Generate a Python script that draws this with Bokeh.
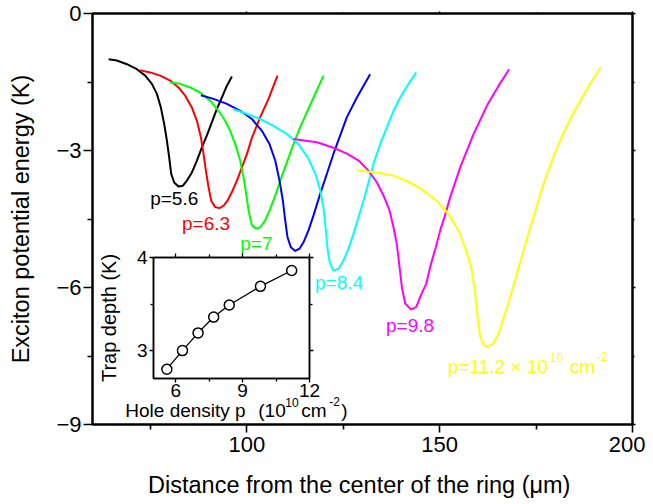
from bokeh.plotting import figure
from bokeh.models import Range1d, FixedTicker, LinearAxis, ColumnDataSource
from bokeh.layouts import column
from bokeh.embed import file_html
from bokeh.resources import INLINE
from bokeh.core.properties import value

FONT = "Liberation Sans"

# ---------------- data ----------------
densities = ["5.6", "6.3", "7", "8.4", "9.8", "11.2"]

black_x = [64.15, 66.32, 68.92, 71.51, 73.66, 75.39, 76.69, 77.73, 78.59, 79.28, 79.88, 80.40, 81.18, 82.30,
           83.44, 84.48, 85.77, 87.07, 88.36, 89.66, 90.96, 92.25, 93.55, 94.85, 96.14]
black_y = [-1.00, -1.03, -1.11, -1.22, -1.36, -1.54, -1.76, -2.06, -2.42, -2.78, -3.15, -3.51, -3.70, -3.79,
           -3.77, -3.66, -3.48, -3.22, -2.93, -2.67, -2.38, -2.09, -1.84, -1.58, -1.38]

red_x = [72.19, 74.96, 77.55, 80.15, 82.30, 84.03, 85.77, 87.07, 88.10, 88.78, 89.40, 90.08, 90.78, 91.81, 92.93,
         93.96, 95.00, 96.14, 97.44, 98.73, 100.03, 101.33, 103.48, 105.63, 107.96]
red_y = [-1.24, -1.29, -1.36, -1.47, -1.62, -1.80, -2.06, -2.35, -2.71, -3.07, -3.44, -3.80, -4.10, -4.24, -4.26,
         -4.21, -4.10, -3.91, -3.66, -3.37, -3.08, -2.72, -2.27, -1.87, -1.36]

green_x = [80.15, 82.74, 85.33, 87.92, 90.51, 92.67, 94.40, 95.70, 97.00, 98.29, 99.15, 99.85, 100.45, 101.33,
           102.44, 103.48, 104.78, 106.07, 107.37, 108.67, 110.40, 112.11, 113.85, 115.59, 117.30, 119.89]
green_y = [-1.51, -1.54, -1.62, -1.73, -1.91, -2.13, -2.35, -2.57, -2.86, -3.22, -3.59, -3.95, -4.31, -4.64,
           -4.71, -4.68, -4.53, -4.28, -3.99, -3.66, -3.26, -2.86, -2.49, -2.16, -1.84, -1.36]

blue_x = [88.10, 91.37, 94.85, 98.29, 101.33, 103.92, 105.89, 107.37, 108.48, 109.36, 109.96, 110.56, 111.44,
          112.55, 113.67, 114.70, 116.00, 117.30, 119.03, 120.77, 122.48, 124.22, 125.96, 128.55, 131.98]
blue_y = [-1.79, -1.87, -1.98, -2.13, -2.31, -2.57, -2.86, -3.22, -3.66, -4.10, -4.53, -4.90, -5.12,
          -5.20, -5.15, -5.01, -4.75, -4.42, -3.95, -3.51, -3.07, -2.67, -2.27, -1.84, -1.33]

cyan_x = [96.40, 100.03, 103.48, 106.93, 110.40, 113.41, 116.00, 117.74, 119.03, 119.89, 120.50, 120.95, 121.50,
          122.48, 123.78, 125.07, 126.37, 127.67, 128.96, 130.26, 131.56, 132.85, 134.59, 136.33, 138.04, 139.78,
          141.93, 143.93]
cyan_y = [-2.09, -2.20, -2.31, -2.46, -2.64, -2.86, -3.18, -3.50, -3.86, -4.26, -4.75, -5.15, -5.45,
          -5.63, -5.59, -5.41, -5.15, -4.82, -4.46, -4.10, -3.70, -3.29, -2.86, -2.49, -2.13, -1.84,
          -1.54, -1.29]

magenta_x = [112.10, 118.18, 122.48, 125.96, 129.00, 131.56, 133.74, 135.46, 137.00, 138.04, 138.90, 139.60,
             140.20, 141.07, 142.55, 143.93, 144.96, 146.52, 147.70, 149.00, 150.14, 151.44, 152.74, 155.33,
             158.78, 162.50, 165.30, 168.03]
magenta_y = [-2.75, -2.82, -2.94, -3.07, -3.22, -3.44, -3.70, -3.99, -4.31, -4.68, -5.05, -5.55,
             -5.99, -6.35, -6.48, -6.43, -6.20, -5.92, -5.50, -5.12, -4.75, -4.41, -4.02, -3.37,
             -2.64, -1.98, -1.58, -1.22]

yellow_x = [128.50, 133.74, 138.04, 142.37, 145.82, 149.28, 152.30, 154.90, 156.89, 158.37, 159.22, 159.82,
            160.52, 161.55, 162.67, 163.97, 165.26, 166.56, 168.29, 170.03, 171.75, 173.48, 175.22, 176.93,
            179.11, 181.26, 183.85, 186.44, 189.03, 191.81]
yellow_y = [-3.44, -3.48, -3.55, -3.70, -3.88, -4.10, -4.39, -4.75, -5.19, -5.63, -6.14, -6.65,
            -7.08, -7.27, -7.29, -7.22, -7.01, -6.68, -6.21, -5.70, -5.19, -4.68, -4.21, -3.73,
            -3.22, -2.78, -2.31, -1.91, -1.54, -1.17]

# inset: trap depth vs hole density
hole_density = [5.6, 6.3, 7.0, 7.7, 8.4, 9.8, 11.2]
trap_depth = [2.80, 3.00, 3.19, 3.36, 3.49, 3.69, 3.86]

x_major = [100, 150, 200]
x_minor = [75, 125, 175]
y_major = [-9, -6, -3, 0]
y_minor = [-7.5, -4.5, -1.5]
ix_major = [6, 9, 12]
ix_minor = [7.5, 10.5]
iy_major = [3, 4]
iy_minor = [3.5]

curves = [
    (black_x, black_y, "#000000"),
    (red_x, red_y, "#ff0000"),
    (green_x, green_y, "#00ff00"),
    (blue_x, blue_y, "#0000ff"),
    (cyan_x, cyan_y, "#00ffff"),
    (magenta_x, magenta_y, "#ff00ff"),
    (yellow_x, yellow_y, "#ffff00"),
]


def style_axis(ax, major_out, minor_out, size, labels=True, standoff=3):
    ax.axis_line_color = "black"
    ax.axis_line_width = 2
    ax.major_tick_line_color = "black"
    ax.minor_tick_line_color = "black"
    ax.major_tick_line_width = 1.6
    ax.minor_tick_line_width = 1.6
    ax.major_tick_in = 0
    ax.minor_tick_in = 0
    ax.major_tick_out = major_out
    ax.minor_tick_out = minor_out
    ax.major_label_text_font = FONT
    ax.major_label_text_color = "black"
    ax.major_label_standoff = standoff
    ax.axis_label_text_font = FONT
    ax.axis_label_text_font_style = "normal"
    ax.axis_label_text_color = "black"
    if labels:
        ax.major_label_text_font_size = size
    else:
        ax.major_label_text_font_size = "0px"
        ax.major_label_text_alpha = 0


# ---------------- main figure ----------------
p = figure(width=645, height=500, x_range=Range1d(60, 200), y_range=Range1d(-9, 0),
           output_backend="svg", toolbar_location=None,
           min_border_left=92, min_border_right=13, min_border_top=13, min_border_bottom=76)
p.grid.visible = False
p.outline_line_color = "black"
p.outline_line_width = 2
p.background_fill_color = "white"
p.border_fill_color = "white"

for xs, ys, c in curves:
    p.line(xs, ys, line_color=c, line_width=2, line_join="round")

xa = p.xaxis[0]
xa.ticker = FixedTicker(ticks=x_major, minor_ticks=x_minor)
style_axis(xa, 8, 5, "22px", standoff=4)
xa.axis_label = "Distance from the center of the ring  (\u03bcm)"
xa.axis_label_text_font_size = "23.5px"
xa.axis_label_standoff = 17

ya = p.yaxis[0]
ya.ticker = FixedTicker(ticks=y_major, minor_ticks=y_minor)
style_axis(ya, 9, 5, "22px", standoff=2)
ya.axis_label = "Exciton potential energy (K)"
ya.axis_label_text_font_size = "23.5px"
ya.axis_label_standoff = 19

top = LinearAxis(ticker=FixedTicker(ticks=x_major, minor_ticks=x_minor))
style_axis(top, 2, 1, "0px", labels=False)
p.add_layout(top, "above")
right = LinearAxis(ticker=FixedTicker(ticks=y_major, minor_ticks=y_minor))
style_axis(right, 3, 2, "0px", labels=False)
p.add_layout(right, "right")

# curve labels
label_colors = ["#000000", "#ff0000", "#00ff00", "#00ffff", "#ff00ff"]
label_x = [74.95, 83.2, 98.3, 117.7, 136.1]
label_y = [-4.05, -4.60, -5.04, -5.89, -6.84]
p.text(x=label_x, y=label_y, text=["p=" + d for d in densities[:5]],
       text_color=label_colors, text_font=value(FONT), text_font_size="19px",
       text_baseline="alphabetic", text_align="left")

# yellow label with superscripts
ysrc = ColumnDataSource(dict(
    x=[152.1] * 4, y=[-7.73] * 4,
    t=["p=" + densities[5] + " \u00d7 10", "10", "cm", "-2"],
    dx=[0, 102, 122, 149], dy=[0, -9, 0, -10],
    fs=["19px", "12px", "19px", "12px"]))
p.text(x="x", y="y", text="t", x_offset="dx", y_offset="dy", text_font_size="fs",
       source=ysrc, text_color="#ffff00", text_font=value(FONT),
       text_baseline="alphabetic", text_align="left")

# inset x-axis title (with superscripts), drawn in the main plot area
isrc = ColumnDataSource(dict(
    x=[68.5] * 6, y=[-8.69] * 6,
    t=["Hole density p", "(10", "10", "cm", "-2", ")"],
    dx=[0, 133, 160, 176, 204, 216], dy=[0, 0, -8, 0, -9, 0],
    fs=["19px", "19px", "12px", "19px", "12px", "19px"]))
p.text(x="x", y="y", text="t", x_offset="dx", y_offset="dy", text_font_size="fs",
       source=isrc, text_color="black", text_font=value(FONT),
       text_baseline="alphabetic", text_align="left")

# ---------------- inset figure ----------------
# borders match the main plot's left/right borders (column aligns plot frames)
ins = figure(width=261, height=185, x_range=Range1d(5, 12), y_range=Range1d(2.7, 4),
             output_backend="svg", toolbar_location=None,
             min_border_left=92, min_border_right=13, min_border_top=12, min_border_bottom=52)
ins.grid.visible = False
ins.outline_line_color = "black"
ins.outline_line_width = 1.5
ins.background_fill_color = "white"
ins.border_fill_color = None
ins.line(hole_density, trap_depth, line_color="black", line_width=1.3)
ins.scatter(hole_density, trap_depth, marker="circle", size=10, fill_color="white",
            line_color="black", line_width=1.5)

ixa = ins.xaxis[0]
ixa.ticker = FixedTicker(ticks=ix_major, minor_ticks=ix_minor)
style_axis(ixa, 4, 3, "19px", standoff=1)
iya = ins.yaxis[0]
iya.ticker = FixedTicker(ticks=iy_major, minor_ticks=iy_minor)
style_axis(iya, 4, 3, "19px", standoff=2)
iya.axis_label = "Trap depth (K)"
iya.axis_label_text_font_size = "20px"
iya.axis_label_standoff = 14
for ax in (ixa, iya):
    ax.axis_line_width = 1.5
    ax.major_tick_line_width = 1.3
    ax.minor_tick_line_width = 1.3
itop = LinearAxis(ticker=FixedTicker(ticks=ix_major, minor_ticks=ix_minor))
style_axis(itop, 4, 3, "0px", labels=False)
ins.add_layout(itop, "above")
iright = LinearAxis(ticker=FixedTicker(ticks=iy_major, minor_ticks=iy_minor))
style_axis(iright, 4, 3, "0px", labels=False)
ins.add_layout(iright, "right")
for ax in (itop, iright):
    ax.axis_line_width = 1.5
    ax.major_tick_line_width = 1.3
    ax.minor_tick_line_width = 1.3

ins.styles = {"position": "absolute", "left": "61px", "top": "245px"}

layout = column(p, ins, styles={"position": "relative"})

open("out.html", "w").write(file_html(layout, INLINE))
